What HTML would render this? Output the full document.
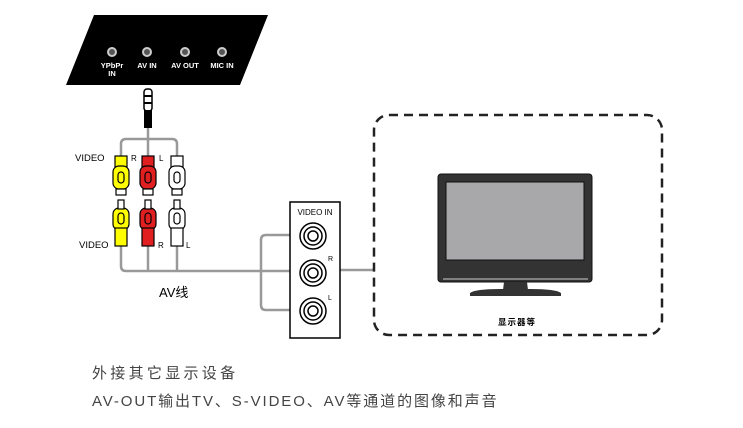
<!DOCTYPE html>
<html><head><meta charset="utf-8"><style>
body{margin:0;background:#fff;}
svg{display:block;font-family:"Liberation Sans","Noto Sans CJK SC",sans-serif;}
</style></head><body>
<svg width="743" height="428" viewBox="0 0 743 428">
<polygon points="94,15 268,15 240,85 66,85" fill="#000"/>
<g fill="#555" stroke="#ccc" stroke-width="2">
<circle cx="112" cy="52" r="4"/><circle cx="147" cy="52" r="4"/><circle cx="185" cy="52" r="4"/><circle cx="222" cy="52" r="4"/>
</g>
<g fill="#fff" font-size="7.5" font-weight="bold" text-anchor="middle">
<text x="112" y="68">YPbPr</text><text x="112" y="76">IN</text>
<text x="147" y="68">AV IN</text><text x="185" y="68">AV OUT</text><text x="222" y="68">MIC IN</text>
</g>
<rect x="144" y="89" width="8" height="22" rx="3" fill="#fff" stroke="#000" stroke-width="1.5"/>
<line x1="144" y1="96" x2="152" y2="96" stroke="#000" stroke-width="2"/>
<line x1="144" y1="103" x2="152" y2="103" stroke="#000" stroke-width="2"/>
<rect x="144" y="110" width="8" height="18" fill="#000"/>
<g fill="none" stroke="#999" stroke-width="2.5">
<line x1="148" y1="128" x2="148" y2="156"/>
<path d="M121,156 V144 Q121,139 126,139 H172 Q177,139 177,144 V156"/>
<path d="M121,245 V266 Q121,271 126,271 H290"/>
<line x1="148" y1="245" x2="148" y2="271"/>
<line x1="177" y1="245" x2="177" y2="271"/>
<path d="M290,235 H266 Q261,235 261,240 V305 Q261,310 266,310 H290"/>
<line x1="340" y1="270" x2="373" y2="270"/>
</g>
<g stroke="#000" stroke-width="1.2">
<g fill="#ff0"><rect x="115" y="156" width="12" height="12"/><rect x="113" y="166" width="16" height="23" rx="6"/><rect x="116" y="189" width="10" height="6" fill="#fff"/>
<rect x="113" y="208" width="16" height="22" rx="6"/><rect x="115" y="228" width="12" height="18"/></g>
<g fill="#e02020"><rect x="142" y="156" width="12" height="12"/><rect x="140" y="166" width="16" height="23" rx="6"/><rect x="143" y="189" width="10" height="6" fill="#fff"/>
<rect x="140" y="208" width="16" height="22" rx="6"/><rect x="142" y="228" width="12" height="18"/></g>
<g fill="#fff"><rect x="171" y="156" width="12" height="12"/><rect x="169" y="166" width="16" height="23" rx="6"/><rect x="172" y="189" width="10" height="6"/>
<rect x="169" y="208" width="16" height="22" rx="6"/><rect x="171" y="228" width="12" height="18"/></g>
<g fill="#fff"><rect x="118" y="200" width="6" height="9"/><rect x="145" y="200" width="6" height="9"/><rect x="174" y="200" width="6" height="9"/></g>
<g fill="none"><rect x="118" y="172" width="6" height="11" rx="3"/><rect x="145" y="172" width="6" height="11" rx="3"/><rect x="174" y="172" width="6" height="11" rx="3"/>
<rect x="118" y="213" width="6" height="11" rx="3"/><rect x="145" y="213" width="6" height="11" rx="3"/><rect x="174" y="213" width="6" height="11" rx="3"/></g>
</g>
<g font-size="9.5"><text x="75" y="161">VIDEO</text><text x="131" y="161" font-size="8">R</text><text x="159" y="161" font-size="8">L</text>
<text x="79" y="248">VIDEO</text><text x="158" y="248" font-size="8">R</text><text x="186" y="248" font-size="8">L</text></g>
<text x="159" y="297" font-size="13">AV线</text>
<rect x="290" y="202" width="50" height="136" fill="#fff" stroke="#000" stroke-width="1.5"/>
<text x="315" y="215" font-size="8" text-anchor="middle">VIDEO  IN</text>
<g fill="#fff" stroke="#000" stroke-width="1.5">
<circle cx="313" cy="236" r="13"/><circle cx="313" cy="236" r="9"/><circle cx="313" cy="236" r="5"/>
<circle cx="313" cy="273" r="13"/><circle cx="313" cy="273" r="9"/><circle cx="313" cy="273" r="5"/>
<circle cx="313" cy="311" r="13"/><circle cx="313" cy="311" r="9"/><circle cx="313" cy="311" r="5"/>
</g>
<text x="328" y="261" font-size="7">R</text><text x="328" y="300" font-size="7">L</text>
<rect x="374" y="115" width="288" height="220" rx="15" fill="none" stroke="#222" stroke-width="2.5" stroke-dasharray="9,6"/>
<rect x="438" y="174" width="154" height="108" rx="3" fill="#333" stroke="#111"/>
<rect x="446" y="182" width="138" height="78" fill="#a8a8aa" stroke="#111"/>
<line x1="443" y1="279" x2="588" y2="279" stroke="#ccc" stroke-width="1"/>
<polygon points="504,282 527,282 528,290 503,290" fill="#333"/>
<path d="M470,293 Q475,289 500,289 H531 Q556,289 561,293 V296 H470 Z" fill="#333"/>
<text x="517" y="325" font-size="8.5" font-weight="bold" text-anchor="middle" letter-spacing="1">显示器等</text>
<g font-size="15" fill="#444"><text x="92" y="378" letter-spacing="3.3">外接其它显示设备</text><text x="92" y="406" letter-spacing="1.9">AV-OUT输出TV、S-VIDEO、AV等通道的图像和声音</text></g>
</svg>
</body></html>
